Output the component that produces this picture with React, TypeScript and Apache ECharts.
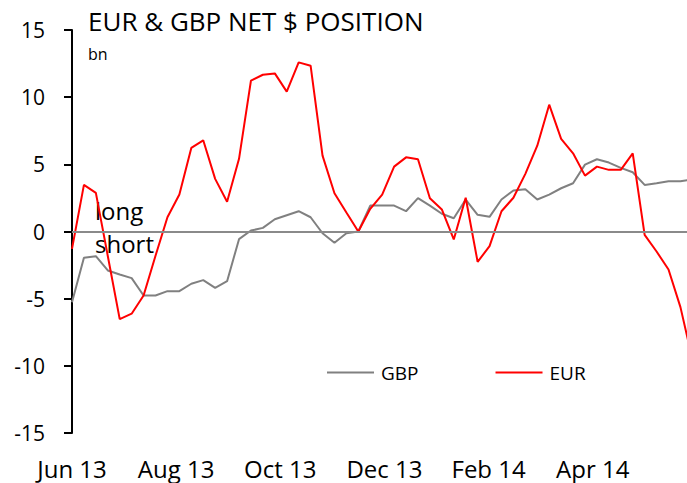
import React, { useEffect, useRef } from "react";
import * as echarts from "echarts";

const xLabels = ["Jun 13", "Aug 13", "Oct 13", "Dec 13", "Feb 14", "Apr 14"];
const xLabelStep = 8.73; // weeks between labels

const gbp = [
  -5.26, -1.96, -1.84, -2.9, -3.2, -3.47, -4.76, -4.76, -4.44, -4.44,
  -3.89, -3.62, -4.19, -3.7, -0.57, 0.07, 0.27, 0.91, 1.21, 1.51,
  1.06, -0.13, -0.84, -0.13, 0, 1.93, 1.93, 1.93, 1.51, 2.48,
  1.93, 1.32, 0.99, 2.38, 1.24, 1.09, 2.38, 3.05, 3.14, 2.38,
  2.75, 3.22, 3.59, 4.98, 5.38, 5.13, 4.74, 4.41, 3.47, 3.59,
  3.74, 3.74, 3.87,
];

const eur = [
  -1.29, 3.47, 2.88, -1.82, -6.52, -6.12, -4.76, -1.8, 1.06, 2.75,
  6.22, 6.79, 3.92, 2.21, 5.41, 11.23, 11.67, 11.77, 10.41, 12.59,
  12.34, 5.65, 2.85, 1.41, 0, 1.69, 2.75, 4.83, 5.52, 5.38,
  2.48, 1.64, -0.59, 2.51, -2.26, -1.09, 1.51, 2.51, 4.29, 6.39,
  9.44, 6.89, 5.82, 4.16, 4.83, 4.59, 4.59, 5.82, -0.25, -1.49,
  -2.83, -5.63, -9.5,
];

const FONT = "'Open Sans', sans-serif";

export default function App() {
  const ref = useRef<HTMLDivElement>(null);
  useEffect(() => {
    if (!ref.current) return;
    const chart = echarts.init(ref.current, undefined, { renderer: "svg" });
    chart.setOption({
      animation: false,
      backgroundColor: "#ffffff",
      textStyle: { fontFamily: FONT },
      grid: { left: 72, right: 0, top: 30, bottom: 50, containLabel: false },
      xAxis: {
        type: "value",
        min: 0,
        max: 51.55,
        interval: xLabelStep,
        axisLine: { show: false },
        axisTick: { show: false },
        splitLine: { show: false },
        axisLabel: {
          fontFamily: FONT,
          fontSize: 24,
          color: "#000",
          margin: 23,
          showMaxLabel: false,
          formatter: (v: number) => {
            const k = Math.round(v / xLabelStep);
            if (Math.abs(k * xLabelStep - v) > 0.01) return "";
            return xLabels[k] ?? "";
          },
        },
      },
      yAxis: {
        type: "value",
        min: -15,
        max: 15,
        interval: 5,
        axisLine: { show: true, lineStyle: { color: "#000", width: 2 } },
        axisTick: { show: true, length: 8, lineStyle: { color: "#000", width: 2 } },
        splitLine: { show: false },
        axisLabel: { fontFamily: FONT, fontSize: 21, color: "#000", margin: 27 },
      },
      legend: {
        left: 327,
        top: 363,
        icon: "rect",
        itemWidth: 47,
        itemHeight: 2,
        itemGap: 77,
        padding: 0,
        textStyle: { fontFamily: FONT, fontSize: 19, color: "#000", padding: [0, 0, 0, 2] },
        data: ["GBP", "EUR"],
      },
      series: [
        {
          name: "GBP",
          type: "line",
          data: gbp.map((v, i) => [i, v]),
          symbol: "none",
          lineStyle: { color: "#808080", width: 2 },
          itemStyle: { color: "#808080" },
          markLine: {
            silent: true,
            symbol: ["none", "none"],
            label: { show: false },
            lineStyle: { color: "#8a8a8a", width: 2, type: "solid" },
            data: [{ yAxis: 0 }],
          },
          z: 2,
        },
        {
          name: "EUR",
          type: "line",
          data: eur.map((v, i) => [i, v]),
          symbol: "none",
          lineStyle: { color: "#ff0000", width: 2 },
          itemStyle: { color: "#ff0000" },
          z: 3,
        },
      ],
      graphic: [
        {
          type: "text",
          left: 88,
          top: 8,
          style: { text: "EUR & GBP NET $ POSITION", fontFamily: FONT, fontSize: 26, fill: "#000" },
        },
        {
          type: "text",
          left: 88,
          top: 46,
          style: { text: "bn", fontFamily: FONT, fontSize: 16, fill: "#000" },
        },
        {
          type: "text",
          left: 95,
          top: 198,
          style: { text: "long", fontFamily: FONT, fontSize: 24, fill: "#000" },
        },
        {
          type: "text",
          left: 95,
          top: 231,
          style: { text: "short", fontFamily: FONT, fontSize: 24, fill: "#000" },
        },
      ],
    });
    return () => chart.dispose();
  }, []);
  return (
    <div
      ref={ref}
      style={{ position: "fixed", left: 0, top: 0, width: 687, height: 483, background: "#fff" }}
    />
  );
}
